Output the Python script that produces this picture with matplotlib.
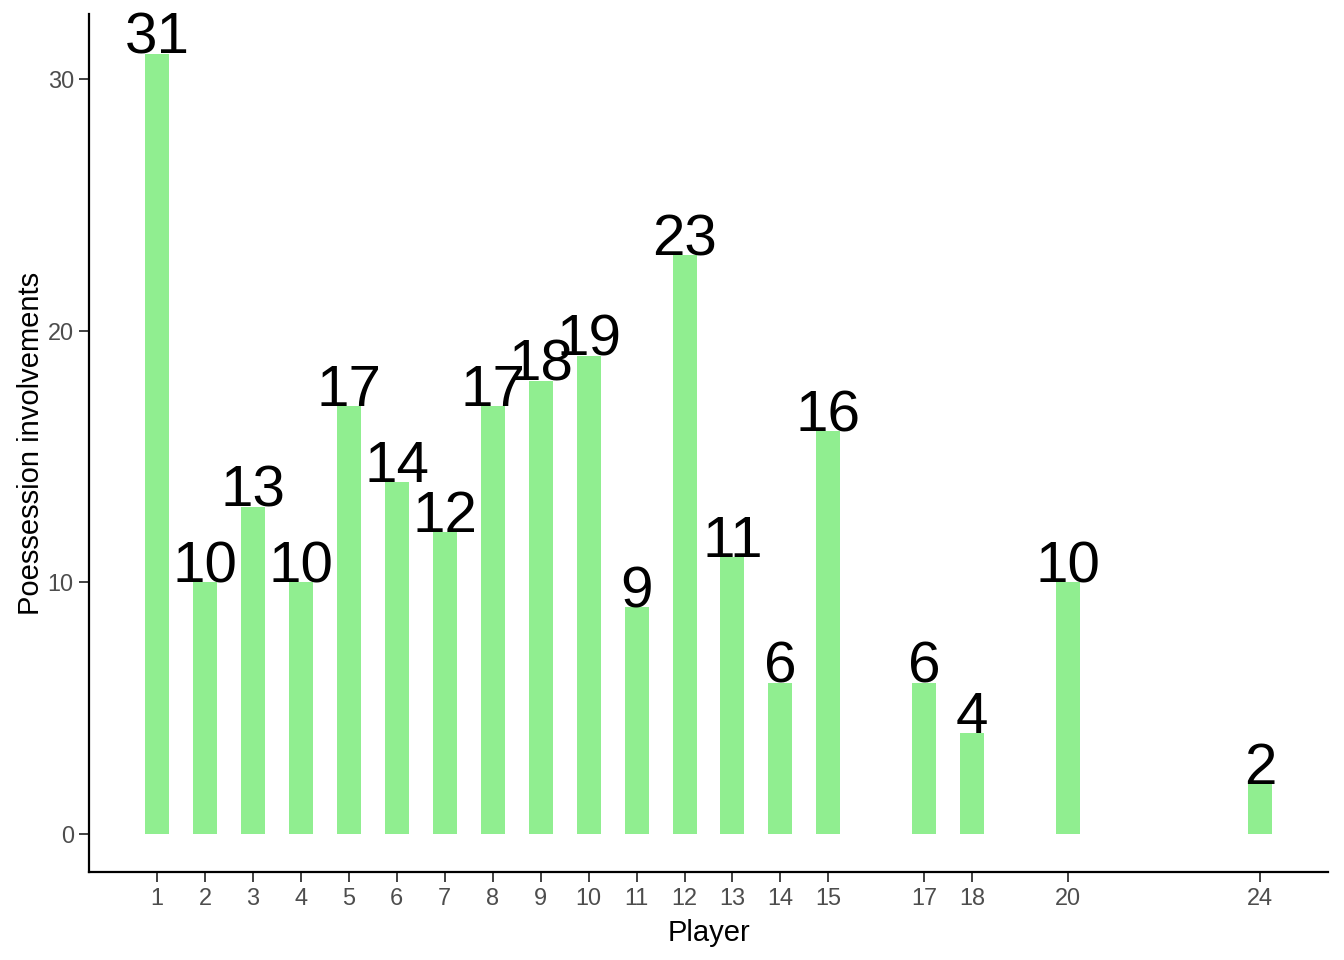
import matplotlib.pyplot as plt

players = [1, 2, 3, 4, 5, 6, 7, 8, 9, 10, 11, 12, 13, 14, 15, 17, 18, 20, 24]
involvements = [31, 10, 13, 10, 17, 14, 12, 17, 18, 19, 9, 23, 11, 6, 16, 6, 4, 10, 2]

plt.rcParams["font.family"] = ["Liberation Sans", "DejaVu Sans"]

fig = plt.figure(figsize=(13.44, 9.6), dpi=100)
W, H = 1344, 960
ax = fig.add_axes([89 / W, 1 - 872 / H, (1328 - 89) / W, (872 - 14) / H])

ax.bar(players, involvements, width=0.5, color="#90EE90")
for p, v in zip(players, involvements):
    ax.text(p, v, str(v), ha="center", va="baseline", fontsize=42, color="black")

ax.set_xlim(-0.418, 25.418)
ax.set_ylim(-1.51, 32.58)
ax.set_xticks(players)
ax.set_xticklabels([str(p) for p in players])
ax.set_yticks([0, 10, 20, 30])

for s in ["top", "right"]:
    ax.spines[s].set_visible(False)
for s in ["left", "bottom"]:
    ax.spines[s].set_linewidth(1.6)
    ax.spines[s].set_color("black")

ax.tick_params(axis="both", length=7, width=1.3, color="#333333",
               labelsize=16.9, labelcolor="#4D4D4D", pad=4)

ax.set_xlabel("Player", fontsize=21, color="black", labelpad=6)
ax.set_ylabel("Poessession involvements", fontsize=21, color="black", labelpad=2)

fig.savefig("out.png", dpi=100)
